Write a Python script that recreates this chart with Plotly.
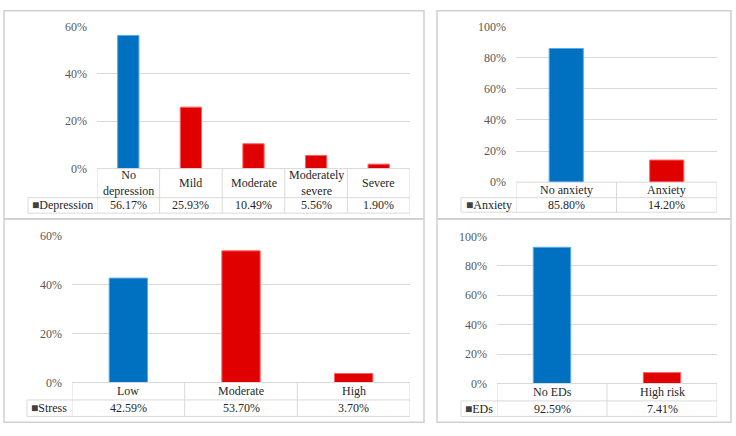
import plotly.graph_objects as go

W, H = 736, 436

# ---- data ----
dep_cats = ["No<br>depression", "Mild", "Moderate", "Moderately<br>severe", "Severe"]
dep_vals = [56.17, 25.93, 10.49, 5.56, 1.90]
anx_cats = ["No anxiety", "Anxiety"]
anx_vals = [85.80, 14.20]
str_cats = ["Low", "Moderate", "High"]
str_vals = [42.59, 53.70, 3.70]
ed_cats = ["No EDs", "High risk"]
ed_vals = [92.59, 7.41]
series_names = ["Depression", "Anxiety", "Stress", "EDs"]
y_max = [60, 100, 60, 100]

BLUE, RED = "#0070C0", "#E00000"
BLUE_EDGE, RED_EDGE = "#5AAAE8", "#FF6060"
GRID = "#D9D9D9"
BORDER = "#D0D0D0"
TICK_COL = "#595959"
TXT_COL = "#262626"
FONT = "Liberation Serif"

# ---- layout geometry (pixels) ----
geo = [
    dict(L=97, R=410, T=20, B=167, C=197, D=213, TL=28),
    dict(L=516, R=717, T=20, B=181, C=197, D=212, TL=461),
    dict(L=72, R=410, T=236, B=388, C=406, D=423, TL=27),
    dict(L=497, R=717, T=237, B=389, C=407, D=423, TL=461),
]
panels_px = [(4, 4, 424, 219), (437, 4, 731, 219), (4, 219, 424, 429), (437, 219, 731, 429)]


def px(x):
    return x / W


def py(y):
    return 1 - y / H


cats_all = [dep_cats, anx_cats, str_cats, ed_cats]
vals_all = [dep_vals, anx_vals, str_vals, ed_vals]

fig = go.Figure()
shapes = []
annotations = []

for k, (cats, vals, g) in enumerate(zip(cats_all, vals_all, geo)):
    n = len(cats)
    sfx = "" if k == 0 else str(k + 1)
    xa, ya = "x" + sfx, "y" + sfx
    colors = [BLUE] + [RED] * (n - 1)
    edges = [BLUE_EDGE] + [RED_EDGE] * (n - 1)
    fig.add_trace(go.Bar(
        x=list(range(n)), y=vals, xaxis=xa, yaxis=ya,
        marker=dict(color=colors, line=dict(color=edges, width=1)),
        showlegend=False, hoverinfo="skip",
    ))
    fig.layout["xaxis" + sfx] = dict(
        domain=[px(g["L"]), px(g["R"])], range=[-0.5, n - 0.5],
        showticklabels=False, showgrid=False, zeroline=False, showline=False,
        anchor=ya, fixedrange=True,
    )
    fig.layout["yaxis" + sfx] = dict(
        domain=[py(g["B"]), py(g["T"])], range=[0, y_max[k]], dtick=20,
        ticksuffix="%", showgrid=True, gridcolor=GRID, gridwidth=1,
        zeroline=False, showline=False, anchor=xa, ticks="",
        tickfont=dict(family=FONT, size=12, color=TICK_COL), ticklabelstandoff=9,
        fixedrange=True,
    )
    for yy, x0 in [(g["B"], g["L"]), (g["C"], g["TL"]), (g["D"], g["TL"])]:
        shapes.append(dict(type="line", xref="paper", yref="paper",
                           x0=px(x0), x1=px(g["R"]), y0=py(yy), y1=py(yy),
                           line=dict(color=GRID, width=1)))
    for i in range(n + 1):
        shapes.append(dict(type="line", xref=xa, yref="paper",
                           x0=i - 0.5, x1=i - 0.5, y0=py(g["B"]), y1=py(g["D"]),
                           line=dict(color=GRID, width=1)))
    shapes.append(dict(type="line", xref="paper", yref="paper",
                       x0=px(g["TL"]), x1=px(g["TL"]), y0=py(g["C"]), y1=py(g["D"]),
                       line=dict(color=GRID, width=1)))
    for i, (c, v) in enumerate(zip(cats, vals)):
        annotations.append(dict(
            x=i, xref=xa, y=py((g["B"] + g["C"]) / 2), yref="paper",
            text=c, showarrow=False, xanchor="center", yanchor="middle",
            font=dict(family=FONT, size=12, color=TXT_COL),
        ))
        annotations.append(dict(
            x=i, xref=xa, y=py((g["C"] + g["D"]) / 2), yref="paper",
            text=f"{v:.2f}%", showarrow=False, xanchor="center", yanchor="middle",
            font=dict(family=FONT, size=12, color=TXT_COL),
        ))
    annotations.append(dict(
        x=px((g["TL"] + g["L"]) / 2), xref="paper", y=py((g["C"] + g["D"]) / 2), yref="paper",
        text='<span style="font-size:12px;color:#404040">■</span>' + series_names[k],
        showarrow=False, xanchor="center", yanchor="middle",
        font=dict(family=FONT, size=12, color=TXT_COL),
    ))

for (x0, y0, x1, y1) in panels_px:
    shapes.append(dict(type="rect", xref="paper", yref="paper",
                       x0=px(x0), x1=px(x1), y0=py(y1), y1=py(y0),
                       line=dict(color=BORDER, width=1.5), layer="below"))

fig.update_layout(
    width=W, height=H, margin=dict(l=0, r=0, t=0, b=0),
    paper_bgcolor="white", plot_bgcolor="white",
    bargap=0.66, shapes=shapes, annotations=annotations,
    font=dict(family=FONT),
)

fig.write_html("out.html", config={"displayModeBar": False})
